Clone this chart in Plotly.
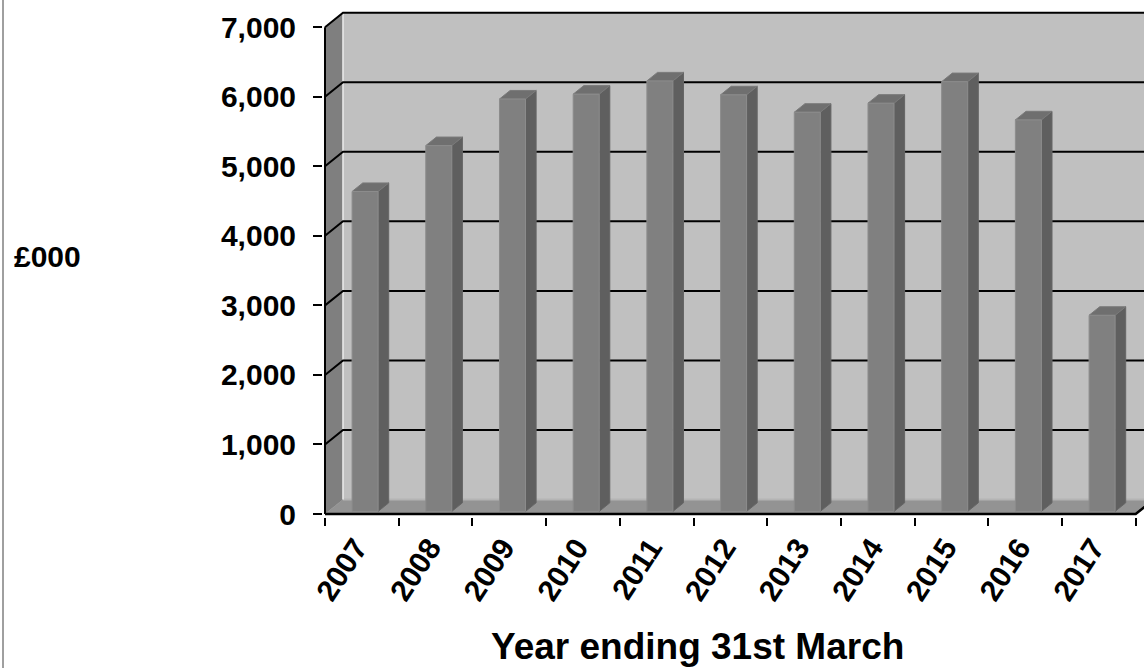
import plotly.graph_objects as go

# ---------------- data ----------------
years = ["2007", "2008", "2009", "2010", "2011", "2012",
         "2013", "2014", "2015", "2016", "2017"]
values = [4600, 5260, 5930, 6000, 6190, 5990, 5740, 5870, 6180, 5630, 2820]
y_ticks = [0, 1000, 2000, 3000, 4000, 5000, 6000, 7000]
y_max = 7000
y_label = "£000"
x_title = "Year ending 31st March"

# ---------------- geometry (pixel -> data) ----------------
W, H = 1144, 668
ML, MR, MT, MB = 323, 0, 10, 151
plot_w = W - ML - MR
plot_h = H - MT - MB
ux = 73.7          # px per category (front plane)
ky = 0.06954       # px per value unit
x_min = -2 / ux
x_max = x_min + plot_w / ux
y_min = -3 / ky
y_max_rng = y_min + plot_h / ky

n = len(years)
Dx = 18 / ux       # depth vector (full depth) in data units
Dy = 14.5 / ky
f0, f1 = 0.18, 0.77  # bar front / back depth fractions
hw = 13 / ux         # bar half width
label_shift = 0.08   # tick labels sit slightly left of category centre

FONT = "Liberation Sans, Arial, sans-serif"

fig = go.Figure()


def poly(xs, ys, fill, line_color=None, lw=0):
    fig.add_trace(go.Scatter(
        x=xs + [xs[0]], y=ys + [ys[0]], mode="lines", fill="toself",
        fillcolor=fill,
        line=dict(color=line_color or fill, width=lw if lw else 0.5),
        hoverinfo="skip", showlegend=False))


def line(xs, ys, color, width):
    fig.add_trace(go.Scatter(
        x=xs, y=ys, mode="lines", line=dict(color=color, width=width),
        hoverinfo="skip", showlegend=False))


# back wall
poly([Dx, n + Dx, n + Dx, Dx], [Dy, Dy, y_max + Dy, y_max + Dy], "#c0c0c0")
# left wall
poly([0, 0, Dx, Dx], [0, y_max, y_max + Dy, Dy], "#7f7f7f")
# floor
poly([0, n, n + Dx, Dx], [0, 0, Dy, Dy], "#939393")
# edge highlights
line([Dx, n + Dx], [Dy, Dy], "#b4b4b4", 2)
line([Dx, Dx], [Dy, y_max + Dy], "#f0f0f0", 1.5)

# gridlines (side wall + back wall)
for v in y_ticks[1:]:
    line([0, Dx, n + Dx], [v, v + Dy, v + Dy], "#000000", 2)

# bars
o0x, o0y = f0 * Dx, f0 * Dy
o1x, o1y = f1 * Dx, f1 * Dy
for i, v in enumerate(values):
    cx = i + 0.5
    xl, xr = cx - hw, cx + hw
    # side face
    poly([xr + o0x, xr + o1x, xr + o1x, xr + o0x],
         [o0y, o1y, v + o1y, v + o0y], "#5f5f5f", "#666666", 1)
    # top face
    poly([xl + o0x, xr + o0x, xr + o1x, xl + o1x],
         [v + o0y, v + o0y, v + o1y, v + o1y], "#6f6f6f", "#7a7a7a", 1)
    # front face
    poly([xl + o0x, xr + o0x, xr + o0x, xl + o0x],
         [o0y, o0y, v + o0y, v + o0y], "#808080", "#8c8c8c", 1)

# front axis lines
line([0, 0], [0, y_max], "#000000", 2)
line([0, n, n + Dx], [0, 0, Dy], "#000000", 2.5)

fig.update_layout(
    width=W, height=H,
    margin=dict(l=ML, r=MR, t=MT, b=MB, pad=0),
    paper_bgcolor="white", plot_bgcolor="white",
    font=dict(family=FONT, color="black"),
    xaxis=dict(
        range=[x_min, x_max], showgrid=False, zeroline=False, showline=False,
        tickmode="array",
        tickvals=[i + 0.5 - label_shift for i in range(n)], ticktext=years,
        ticks="", tickangle=-57, ticklabelstandoff=6,
        tickfont=dict(family=FONT, size=30, color="black", weight="bold"),
        minor=dict(tickmode="array", tickvals=list(range(n + 1)),
                   ticks="outside", ticklen=8, tickwidth=1.5,
                   tickcolor="black", showgrid=False),
        fixedrange=True,
    ),
    yaxis=dict(
        range=[y_min, y_max_rng], showgrid=False, zeroline=False,
        showline=False, tickmode="array", tickvals=y_ticks,
        ticktext=[f"{t:,}" for t in y_ticks],
        ticks="outside", ticklen=9, tickwidth=1.5, tickcolor="black",
        ticklabelstandoff=11,
        tickfont=dict(family=FONT, size=30, color="black", weight="bold"),
        fixedrange=True,
    ),
)

fig.add_annotation(
    xref="paper", yref="paper",
    x=(12 - ML) / plot_w, y=(MT + plot_h - 256) / plot_h,
    xanchor="left", yanchor="middle", showarrow=False,
    text=y_label, font=dict(family=FONT, size=30, color="black", weight="bold"))

fig.add_annotation(
    xref="paper", yref="paper",
    x=(697 - ML) / plot_w, y=(MT + plot_h - 646) / plot_h,
    xanchor="center", yanchor="middle", showarrow=False,
    text=x_title, font=dict(family=FONT, size=37, color="black", weight="bold"))

# outer left border
fig.add_shape(type="line", xref="paper", yref="paper",
              x0=(3 - ML) / plot_w, x1=(3 - ML) / plot_w,
              y0=(MT + plot_h - H) / plot_h, y1=(MT + plot_h) / plot_h,
              line=dict(color="#404040", width=1))

fig.write_html("out.html")
